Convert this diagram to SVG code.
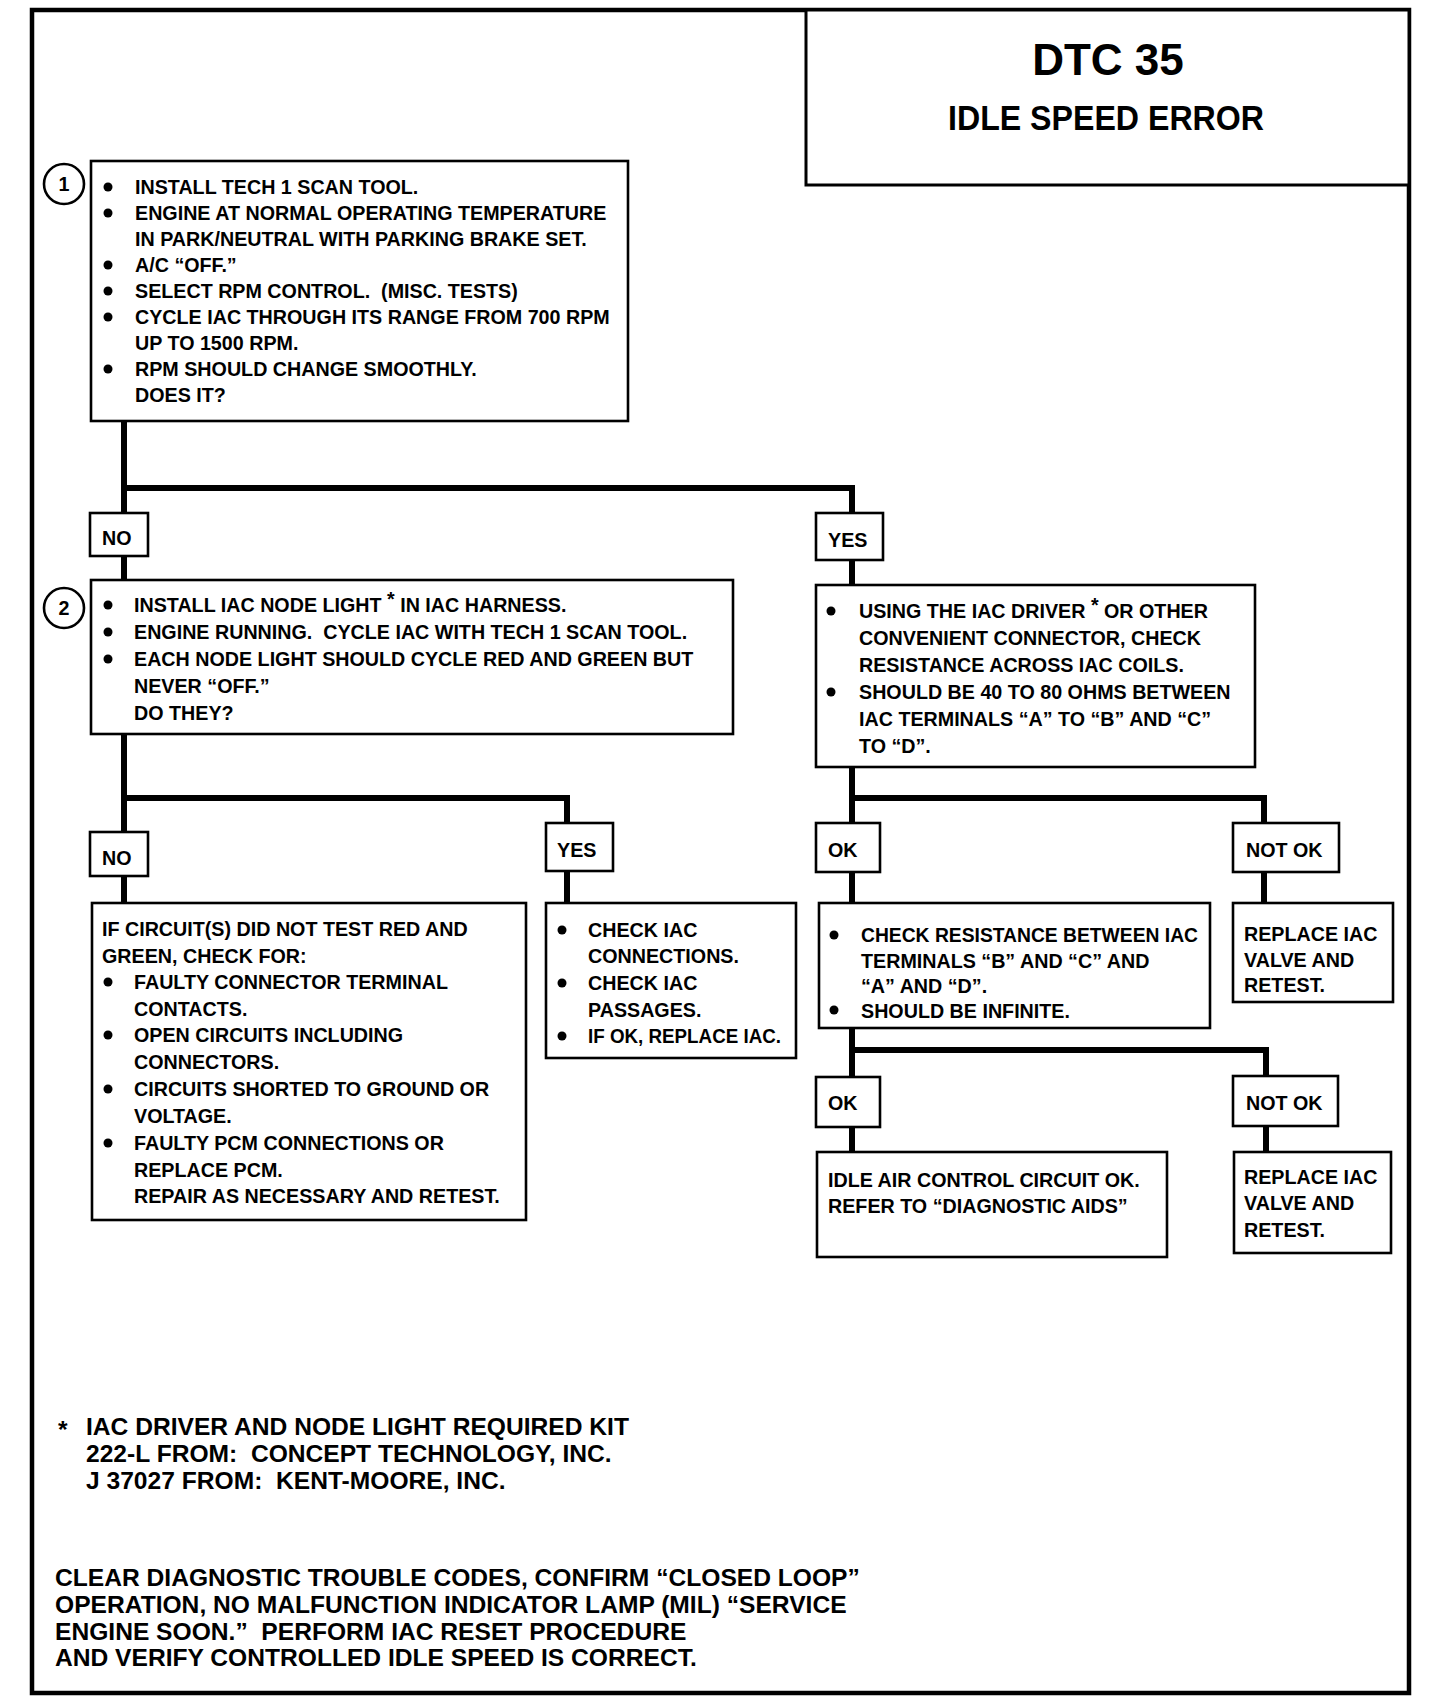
<svg xmlns="http://www.w3.org/2000/svg" width="1440" height="1706" viewBox="0 0 1440 1706">
<style>
.t{font-family:"Liberation Sans",Arial,sans-serif;font-weight:bold;font-size:19.7px;fill:#000}
.f{font-family:"Liberation Sans",Arial,sans-serif;font-weight:bold;font-size:24.6px;fill:#000}
.box{fill:#fff;stroke:#000;stroke-width:2.6}
.lbl{fill:#fff;stroke:#000;stroke-width:2.6}
.con{fill:none;stroke:#000;stroke-width:6;stroke-linejoin:miter}
.dot{fill:#000}
</style>
<rect x="0" y="0" width="1440" height="1706" fill="#fff"/>
<rect x="32" y="10" width="1377" height="1683" fill="none" stroke="#000" stroke-width="4.5"/>

<g id="connectors">
<path class="con" d="M124 421 V513 M124 488 H852 V513"/>
<path class="con" d="M124 556 V580"/>
<path class="con" d="M852 560 V585"/>
<path class="con" d="M124 734 V832 M124 798 H567 V823"/>
<path class="con" d="M124 876 V903"/>
<path class="con" d="M567 871 V903"/>
<path class="con" d="M852 767 V823 M852 798 H1264 V823"/>
<path class="con" d="M852 872 V903"/>
<path class="con" d="M1264 872 V903"/>
<path class="con" d="M852 1028 V1077 M852 1050 H1266 V1076"/>
<path class="con" d="M852 1127 V1152"/>
<path class="con" d="M1266 1126 V1152"/>
</g>

<g id="title">
<rect x="806" y="10" width="603" height="175" fill="#fff" stroke="#000" stroke-width="3"/>
<text class="t" x="1108" y="75" text-anchor="middle" style="font-size:44px">DTC 35</text>
<text class="t" x="1106" y="130" text-anchor="middle" style="font-size:35px" textLength="316" lengthAdjust="spacingAndGlyphs">IDLE SPEED ERROR</text>
</g>

<g id="step1">
<circle cx="64" cy="184" r="20" fill="#fff" stroke="#000" stroke-width="2.6"/>
<text class="t" x="64" y="191" text-anchor="middle">1</text>
<rect class="box" x="91" y="161" width="537" height="260"/>
<g class="dot"><circle cx="108" cy="187" r="4.5"/><circle cx="108" cy="213" r="4.5"/><circle cx="108" cy="265" r="4.5"/><circle cx="108" cy="291" r="4.5"/><circle cx="108" cy="317" r="4.5"/><circle cx="108" cy="369" r="4.5"/></g>
<text class="t" x="135" y="194">INSTALL TECH 1 SCAN TOOL.</text>
<text class="t" x="135" y="220">ENGINE AT NORMAL OPERATING TEMPERATURE</text>
<text class="t" x="135" y="246">IN PARK/NEUTRAL WITH PARKING BRAKE SET.</text>
<text class="t" x="135" y="272">A/C “OFF.”</text>
<text class="t" x="135" y="298" xml:space="preserve">SELECT RPM CONTROL.  (MISC. TESTS)</text>
<text class="t" x="135" y="324">CYCLE IAC THROUGH ITS RANGE FROM 700 RPM</text>
<text class="t" x="135" y="350">UP TO 1500 RPM.</text>
<text class="t" x="135" y="376">RPM SHOULD CHANGE SMOOTHLY.</text>
<text class="t" x="135" y="402">DOES IT?</text>
</g>

<g id="no1"><rect class="lbl" x="90" y="513" width="58" height="43"/><text class="t" x="102" y="545">NO</text></g>
<g id="yes1"><rect class="lbl" x="816" y="513" width="67" height="47"/><text class="t" x="828" y="547">YES</text></g>

<g id="step2">
<circle cx="64" cy="608" r="20" fill="#fff" stroke="#000" stroke-width="2.6"/>
<text class="t" x="64" y="615" text-anchor="middle">2</text>
<rect class="box" x="91" y="580" width="642" height="154"/>
<g class="dot"><circle cx="108" cy="605" r="4.5"/><circle cx="108" cy="632" r="4.5"/><circle cx="108" cy="659" r="4.5"/></g>
<text class="t" x="134" y="612">INSTALL IAC NODE LIGHT <tspan dy="-6">*</tspan><tspan dy="6"> IN IAC HARNESS.</tspan></text>
<text class="t" x="134" y="639" xml:space="preserve">ENGINE RUNNING.  CYCLE IAC WITH TECH 1 SCAN TOOL.</text>
<text class="t" x="134" y="666">EACH NODE LIGHT SHOULD CYCLE RED AND GREEN BUT</text>
<text class="t" x="134" y="693">NEVER “OFF.”</text>
<text class="t" x="134" y="720">DO THEY?</text>
</g>

<g id="check-coils">
<rect class="box" x="816" y="585" width="439" height="182"/>
<g class="dot"><circle cx="831" cy="611" r="4.5"/><circle cx="831" cy="692" r="4.5"/></g>
<text class="t" x="859" y="618">USING THE IAC DRIVER <tspan dy="-6">*</tspan><tspan dy="6"> OR OTHER</tspan></text>
<text class="t" x="859" y="645">CONVENIENT CONNECTOR, CHECK</text>
<text class="t" x="859" y="672">RESISTANCE ACROSS IAC COILS.</text>
<text class="t" x="859" y="699">SHOULD BE 40 TO 80 OHMS BETWEEN</text>
<text class="t" x="859" y="726">IAC TERMINALS “A” TO “B” AND “C”</text>
<text class="t" x="859" y="753">TO “D”.</text>
</g>

<g id="no2"><rect class="lbl" x="90" y="832" width="58" height="44"/><text class="t" x="102" y="865">NO</text></g>
<g id="yes2"><rect class="lbl" x="546" y="823" width="67" height="48"/><text class="t" x="557" y="857">YES</text></g>
<g id="ok1"><rect class="lbl" x="816" y="823" width="64" height="49"/><text class="t" x="828" y="857">OK</text></g>
<g id="notok1"><rect class="lbl" x="1233" y="823" width="106" height="49"/><text class="t" x="1246" y="857">NOT OK</text></g>

<g id="check-circuits">
<rect class="box" x="92" y="903" width="434" height="317"/>
<g class="dot"><circle cx="108" cy="982" r="4.5"/><circle cx="108" cy="1035" r="4.5"/><circle cx="108" cy="1089" r="4.5"/><circle cx="108" cy="1143" r="4.5"/></g>
<text class="t" x="102" y="936">IF CIRCUIT(S) DID NOT TEST RED AND</text>
<text class="t" x="102" y="963">GREEN, CHECK FOR:</text>
<text class="t" x="134" y="989">FAULTY CONNECTOR TERMINAL</text>
<text class="t" x="134" y="1016">CONTACTS.</text>
<text class="t" x="134" y="1042">OPEN CIRCUITS INCLUDING</text>
<text class="t" x="134" y="1069">CONNECTORS.</text>
<text class="t" x="134" y="1096">CIRCUITS SHORTED TO GROUND OR</text>
<text class="t" x="134" y="1123">VOLTAGE.</text>
<text class="t" x="134" y="1150">FAULTY PCM CONNECTIONS OR</text>
<text class="t" x="134" y="1177">REPLACE PCM.</text>
<text class="t" x="134" y="1203">REPAIR AS NECESSARY AND RETEST.</text>
</g>

<g id="check-iac">
<rect class="box" x="546" y="903" width="250" height="155"/>
<g class="dot"><circle cx="562" cy="930" r="4.5"/><circle cx="562" cy="983" r="4.5"/><circle cx="562" cy="1036" r="4.5"/></g>
<text class="t" x="588" y="937">CHECK IAC</text>
<text class="t" x="588" y="963">CONNECTIONS.</text>
<text class="t" x="588" y="990">CHECK IAC</text>
<text class="t" x="588" y="1017">PASSAGES.</text>
<text class="t" x="588" y="1043" textLength="193" lengthAdjust="spacingAndGlyphs">IF OK, REPLACE IAC.</text>
</g>

<g id="check-resistance">
<rect class="box" x="819" y="903" width="391" height="125"/>
<g class="dot"><circle cx="834" cy="935" r="4.5"/><circle cx="834" cy="1010" r="4.5"/></g>
<text class="t" x="861" y="942" textLength="337" lengthAdjust="spacingAndGlyphs">CHECK RESISTANCE BETWEEN IAC</text>
<text class="t" x="861" y="968">TERMINALS “B” AND “C” AND</text>
<text class="t" x="861" y="993">“A” AND “D”.</text>
<text class="t" x="861" y="1018">SHOULD BE INFINITE.</text>
</g>

<g id="replace1">
<rect class="box" x="1233" y="903" width="160" height="99"/>
<text class="t" x="1244" y="941">REPLACE IAC</text>
<text class="t" x="1244" y="967">VALVE AND</text>
<text class="t" x="1244" y="992">RETEST.</text>
</g>

<g id="ok2"><rect class="lbl" x="816" y="1077" width="64" height="50"/><text class="t" x="828" y="1110">OK</text></g>
<g id="notok2"><rect class="lbl" x="1233" y="1076" width="105" height="50"/><text class="t" x="1246" y="1110">NOT OK</text></g>

<g id="circuit-ok">
<rect class="box" x="817" y="1152" width="350" height="105"/>
<text class="t" x="828" y="1187">IDLE AIR CONTROL CIRCUIT OK.</text>
<text class="t" x="828" y="1213">REFER TO “DIAGNOSTIC AIDS”</text>
</g>

<g id="replace2">
<rect class="box" x="1234" y="1152" width="157" height="101"/>
<text class="t" x="1244" y="1184">REPLACE IAC</text>
<text class="t" x="1244" y="1210">VALVE AND</text>
<text class="t" x="1244" y="1237">RETEST.</text>
</g>

<g id="footnote">
<text class="f" x="58" y="1438">*</text>
<text class="f" x="86" y="1435">IAC DRIVER AND NODE LIGHT REQUIRED KIT</text>
<text class="f" x="86" y="1462" xml:space="preserve">222-L FROM:  CONCEPT TECHNOLOGY, INC.</text>
<text class="f" x="86" y="1489" xml:space="preserve">J 37027 FROM:  KENT-MOORE, INC.</text>
</g>

<g id="closing">
<text class="f" x="55" y="1586">CLEAR DIAGNOSTIC TROUBLE CODES, CONFIRM “CLOSED LOOP”</text>
<text class="f" x="55" y="1613">OPERATION, NO MALFUNCTION INDICATOR LAMP (MIL) “SERVICE</text>
<text class="f" x="55" y="1640" xml:space="preserve">ENGINE SOON.”  PERFORM IAC RESET PROCEDURE</text>
<text class="f" x="55" y="1666">AND VERIFY CONTROLLED IDLE SPEED IS CORRECT.</text>
</g>
</svg>
